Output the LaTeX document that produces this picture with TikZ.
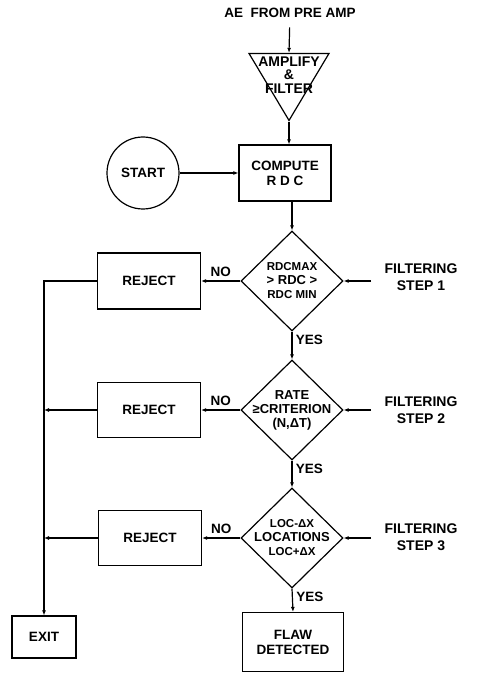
\documentclass[tikz,border=0pt]{standalone}
\usepackage{fontspec}
\setmainfont{Liberation Sans}
\usetikzlibrary{arrows.meta,shapes.geometric,positioning}

\begin{document}
\begin{tikzpicture}[
    x=1pt, y=-1pt,
    every node/.style={font=\fontsize{13.5}{15}\selectfont\bfseries},
    box/.style={draw, line width=1.2pt, minimum width=103pt, minimum height=56pt, align=center},
    test/.style={draw, diamond, line width=1.2pt, minimum width=102pt, minimum height=100pt, inner sep=0pt},
    lbl/.style={font=\fontsize{13}{14}\selectfont\bfseries, align=center},
    side/.style={font=\fontsize{14}{17}\selectfont\bfseries, align=center},
    arr/.style={-{Latex[length=5pt,width=4pt]}, line width=1.2pt}
]
\useasboundingbox (0,0) rectangle (476,676);

\node (src) at (290,13) {AE\ \ FROM PRE AMP};
\node[draw, isosceles triangle, isosceles triangle stretches, shape border rotate=-90, minimum width=80pt, minimum height=67pt, inner sep=0pt, line width=1.2pt, anchor=apex] (amp) at (289,122) {};
\node[lbl, font=\fontsize{14}{13.5}\selectfont\bfseries, below=0.5pt of amp.lower side] (ampl) {AMPLIFY\\\&\\FILTER};

\node[box, minimum width=92pt] (cmp) at (285,173) {COMPUTE\\R D C};
\node[draw, circle, line width=1.2pt, minimum size=72pt, inner sep=0pt] (start) at (143,173) {START};

\node[test, label={[lbl]center:{{\fontsize{11.5}{12}\selectfont RDCMAX}\\> RDC >\\{\fontsize{11.5}{12}\selectfont RDC MIN}}}] (d1) at (292,281) {};
\node[test, label={[lbl]center:{RATE\\≥CRITERION\\(N,ΔT)}}] (d2) at (292,410) {};
\node[test, label={[lbl]center:{{\fontsize{11.5}{12}\selectfont LOC-ΔX}\\LOCATIONS\\{\fontsize{11.5}{12}\selectfont LOC+ΔX}}}] (d3) at (292,538) {};
\node[box, minimum width=101pt, minimum height=59pt] (flaw) at (293,642) {FLAW\\DETECTED};

\node[box] (rej1) at (149,281) {REJECT};
\node[box, minimum height=55pt] (rej2) at (149,410) {REJECT};
\node[box, minimum height=55pt] (rej3) at (150,538) {REJECT};
\node[box, minimum width=64pt, minimum height=42pt] (exit) at (44,637) {EXIT};

\node[side] (f1) at (421,277) {FILTERING\\STEP 1};
\node[side] (f2) at (421,410) {FILTERING\\STEP 2};
\node[side] (f3) at (421,537) {FILTERING\\STEP 3};

\draw[arr, shorten <=6pt] (src) -- (amp.lower side);
\draw[arr] (amp.apex) -- (amp.apex |- cmp.north);
\draw[arr] (start) -- (cmp);
\draw[arr] (cmp.south -| d1.north) -- (d1.north);
\draw[arr] (d1.south) -- node[right, pos=0.3] {YES} (d2.north);
\draw[arr] (d2.south) -- node[right, pos=0.3] {YES} (d3.north);
\draw[arr] (d3.south) -- node[right, pos=0.35] {YES} (flaw.north);

\draw[arr] (d1.west) -- node[above] {NO} (rej1.east);
\draw[arr] (d2.west) -- node[above] {NO} (rej2.east);
\draw[arr] (d3.west) -- node[above] {NO} (rej3.east);

\draw[arr] (rej1.west) -| (exit.north);
\draw[arr] (rej2.west) -- (rej2.west -| exit.north);
\draw[arr] (rej3.west) -- (rej3.west -| exit.north);

\draw[arr, shorten <=10pt] (f1.west |- d1.east) -- (d1.east);
\draw[arr, shorten <=10pt] (f2.west |- d2.east) -- (d2.east);
\draw[arr, shorten <=10pt] (f3.west |- d3.east) -- (d3.east);
\end{tikzpicture}
\end{document}
